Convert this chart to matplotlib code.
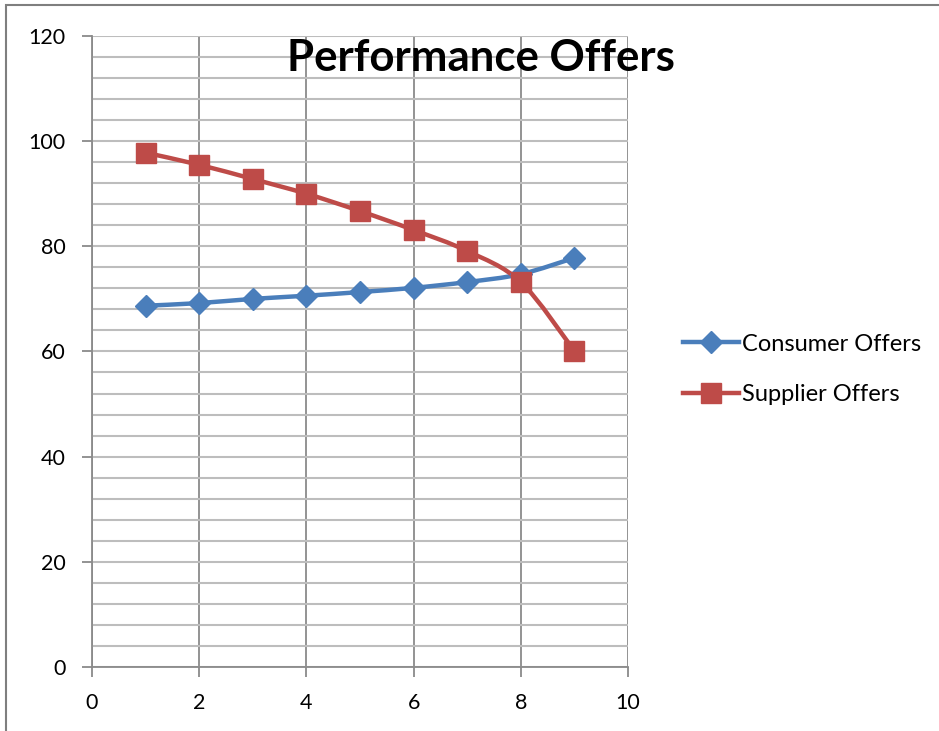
import numpy as np
import matplotlib
matplotlib.use("Agg")
import matplotlib.pyplot as plt
from matplotlib.path import Path
from matplotlib.patches import PathPatch, Rectangle
from matplotlib.lines import Line2D

plt.rcParams['font.family'] = ['Lato', 'DejaVu Sans']

# Data
steps = [1, 2, 3, 4, 5, 6, 7, 8, 9]
consumer_offers = [68.7, 69.2, 70.0, 70.6, 71.3, 72.1, 73.2, 74.7, 77.8]
supplier_offers = [97.8, 95.5, 92.8, 90.0, 86.7, 83.1, 79.1, 73.2, 60.1]

BLUE = '#4A7EBB'
RED = '#BE4B48'


def smooth_path(xs, ys):
    # Catmull-Rom style curve expressed as cubic Bezier segments
    xs = np.asarray(xs, float)
    ys = np.asarray(ys, float)
    n = len(xs)
    verts = [(xs[0], ys[0])]
    codes = [Path.MOVETO]
    for i in range(n - 1):
        x0, y0 = (xs[i - 1], ys[i - 1]) if i > 0 else (xs[i], ys[i])
        x1, y1 = xs[i], ys[i]
        x2, y2 = xs[i + 1], ys[i + 1]
        x3, y3 = (xs[i + 2], ys[i + 2]) if i + 2 < n else (xs[i + 1], ys[i + 1])
        t = 1 / 6
        verts += [(x1 + (x2 - x0) * t, y1 + (y2 - y0) * t),
                  (x2 - (x3 - x1) * t, y2 - (y3 - y1) * t),
                  (x2, y2)]
        codes += [Path.CURVE4] * 3
    return Path(verts, codes)


fig = plt.figure(figsize=(9.39, 7.31), dpi=100)
ax = fig.add_axes([0.098, 0.0876, 0.5708, 0.8632])

# chart border
fig.patches.append(Rectangle((0.0065, -0.1), 1.2, 1.093, transform=fig.transFigure,
                             fill=False, edgecolor='#7f7f7f', linewidth=1.5))

ax.set_xlim(0, 10)
ax.set_ylim(0, 120)
ax.set_xticks(np.arange(0, 11, 2))
ax.set_yticks(np.arange(0, 121, 20))
ax.set_yticks(np.arange(0, 121, 4), minor=True)

ax.grid(True, axis='y', which='both', color='#bdbdbd', linewidth=1.5)
ax.grid(True, axis='x', which='major', color='#8a8a8a', linewidth=1.3)
ax.set_axisbelow(True)

for side in ['top', 'right']:
    ax.spines[side].set_visible(False)
for side in ['left', 'bottom']:
    ax.spines[side].set_color('#8a8a8a')
    ax.spines[side].set_linewidth(1.3)

ax.tick_params(axis='both', which='major', length=7, width=1.3, color='#8a8a8a',
               labelsize=15.5, pad=12)
ax.tick_params(axis='y', which='minor', length=0)

for xs, ys, color, marker, ms in [(steps, consumer_offers, BLUE, 'D', 11),
                                  (steps, supplier_offers, RED, 's', 14)]:
    ax.add_patch(PathPatch(smooth_path(xs, ys), fill=False, edgecolor=color,
                           linewidth=3.2, capstyle='round', zorder=3))
    ax.plot(xs, ys, linestyle='none', marker=marker, markersize=ms,
            color=color, markeredgecolor=color, zorder=4)

fig.text(0.512, 0.92, 'Performance Offers', fontsize=31.5, fontweight='bold',
         ha='center', va='center')

handles = [
    Line2D([], [], color=BLUE, linewidth=3.2, marker='D', markersize=11),
    Line2D([], [], color=RED, linewidth=3.2, marker='s', markersize=14),
]
fig.legend(handles, ['Consumer Offers', 'Supplier Offers'],
           loc='center left', bbox_to_anchor=(0.705, 0.4945), frameon=False,
           fontsize=17, handlelength=2.35, handletextpad=0.12, labelspacing=1.25)

fig.savefig('out.png', dpi=100)
